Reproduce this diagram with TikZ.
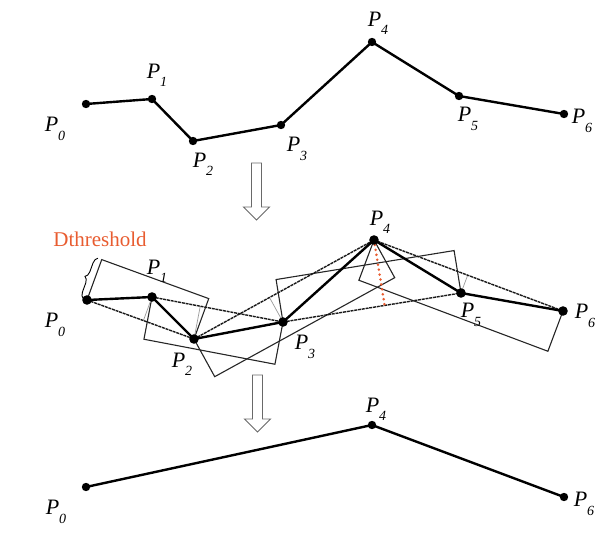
\documentclass[tikz,border=0pt]{standalone}
\usepackage{fontspec}
\setmainfont{Liberation Serif}
\usepackage{tikz}
\usetikzlibrary{calc,decorations.pathreplacing}
\definecolor{threshcol}{RGB}{232,92,48}
\definecolor{arrowcol}{RGB}{105,105,105}
\newcommand{\Pt}[1]{\textit{P}\raisebox{-0.38em}{\fontsize{14}{14}\selectfont\textit{#1}}}
\newcommand{\Dth}{43pt}

\begin{document}
\begin{tikzpicture}[x=1pt,y=-1pt,font=\fontsize{22}{22}\selectfont,
  polyline/.style={line width=2.4pt,line join=round},
  boxline/.style={line width=1.1pt,black!85},
  chord/.style={line width=1.4pt,black!90,dash pattern=on 3pt off 0.8pt},
  perp/.style={line width=0.7pt,black!40},
  dist/.style={line width=2.8pt,threshcol,dash pattern=on 0pt off 5pt,line cap=round},
  hollow/.style={line width=0.9pt,arrowcol,fill=white,line join=miter},
  lab/.style={inner sep=0pt}]
\useasboundingbox (0,0) rectangle (606,546);
% ---- top: original line ----
\coordinate (a0) at (86,104); \coordinate (a1) at (152,99); \coordinate (a2) at (193,141);
\coordinate (a3) at (281,125); \coordinate (a4) at (372,42); \coordinate (a5) at (459,96);
\coordinate (a6) at (564,114);
\draw[polyline] (a0)--(a1)--(a2)--(a3)--(a4)--(a5)--(a6);
\foreach \i in {0,...,6} \fill (a\i) circle (4.2);
\node[lab] (la0) at (55,129) {\Pt{0}};
\node[lab] (la1) at (157,75) {\Pt{1}};
\node[lab] (la2) at (203,164) {\Pt{2}};
\node[lab] (la3) at (297,149) {\Pt{3}};
\node[lab] (la4) at (378,23) {\Pt{4}};
\node[lab] (la5) at (468,119) {\Pt{5}};
\node[lab] (la6) at (582,121) {\Pt{6}};
% ---- arrows ----
\foreach \x/\y in {256.5/163,257.5/375}
  \draw[hollow] (\x-5,\y) -- ++(10,0) -- ++(0,44) -- ++(8,0) -- ++(-13,13) -- ++(-13,-13) -- ++(8,0) -- cycle;
% ---- middle: threshold boxes ----
\coordinate (m0) at (87,300); \coordinate (m1) at (152,297); \coordinate (m2) at (194,339);
\coordinate (m3) at (283,322); \coordinate (m4) at (374,240); \coordinate (m5) at (461,293);
\coordinate (m6) at (563,311);
% box on the side of the middle point
\foreach \a/\b/\s/\t in {m0/m2/90/-90, m1/m3/-90/90, m2/m4/-90/90, m3/m5/90/-90, m4/m6/-90/90}
  \draw[boxline] (\a) -- ($(\a)!\Dth!\s:(\b)$) -- ($(\b)!\Dth!\t:(\a)$) -- (\b);
\foreach \a/\m/\b in {m0/m1/m2, m1/m2/m3, m2/m3/m4, m4/m5/m6}
  \draw[perp] (\m) -- ($(\a)!(\m)!(\b)$);
\foreach \a/\b in {m0/m2, m1/m3, m2/m4, m3/m5, m4/m6}
  \draw[chord] (\a) -- (\b);
\draw[dist] (m4) -- ($(m3)!(m4)!(m5)$);
\draw[polyline] (m0)--(m1)--(m2)--(m3)--(m4)--(m5)--(m6);
\foreach \i in {0,...,6} \fill (m\i) circle (4.8);
\draw[line width=0.9pt,decorate,decoration={brace,amplitude=6pt,raise=4pt}]
  (m0) -- ($(m0)!\Dth!90:(m2)$);
\node[threshcol,font=\fontsize{21}{21}\selectfont,inner sep=0pt] (dth) at (100,239) {Dthreshold};
\node[lab] (lm0) at (55,325) {\Pt{0}};
\node[lab] (lm1) at (157,271) {\Pt{1}};
\node[lab] (lm2) at (182,364) {\Pt{2}};
\node[lab] (lm3) at (305,347) {\Pt{3}};
\node[lab] (lm4) at (380,222) {\Pt{4}};
\node[lab] (lm5) at (471,315) {\Pt{5}};
\node[lab] (lm6) at (585,316) {\Pt{6}};
% ---- bottom: simplified line ----
\coordinate (b0) at (86,487); \coordinate (b4) at (372,425); \coordinate (b6) at (564,497);
\draw[polyline] (b0)--(b4)--(b6);
\foreach \i in {0,4,6} \fill (b\i) circle (4.2);
\node[lab] (lb0) at (56,512) {\Pt{0}};
\node[lab] (lb4) at (376,409) {\Pt{4}};
\node[lab] (lb6) at (584,504) {\Pt{6}};
\end{tikzpicture}
\end{document}
